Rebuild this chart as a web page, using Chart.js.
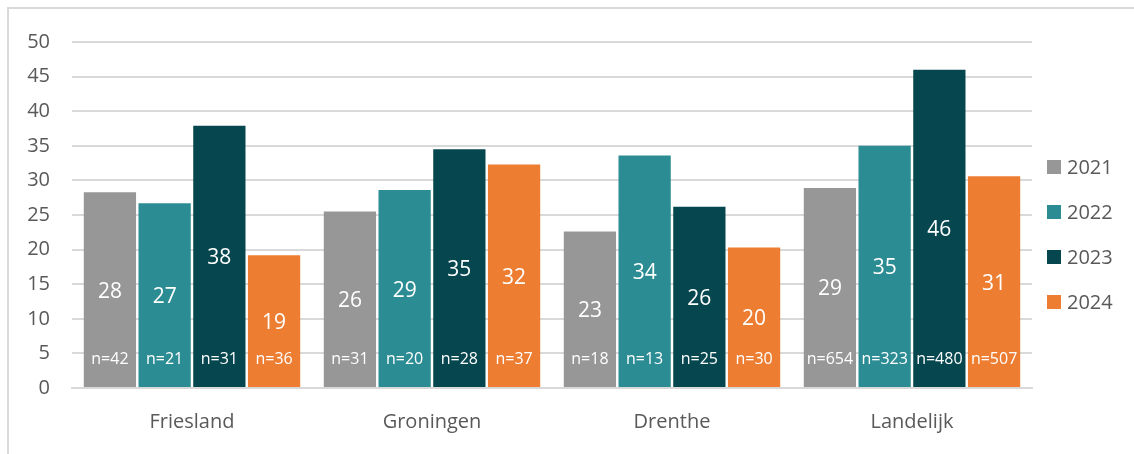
<!DOCTYPE html>
<html>
<head>
<meta charset="utf-8">
<script src="https://cdn.jsdelivr.net/npm/chart.js@4"></script>
<style>
  html, body { margin: 0; padding: 0; background: #fff; }
  .frame {
    position: absolute; left: 7px; top: 7px; width: 1130px; height: 460px;
    border-top: 2px solid #d9d9d9; border-left: 2px solid #d9d9d9;
    box-sizing: border-box;
  }
  .wrap { position: absolute; left: 0; top: 0; width: 1134px; height: 454px; }
</style>
</head>
<body>
<div class="frame"></div>
<div class="wrap"><canvas id="chart" width="1134" height="454"></canvas></div>
<script>
const regions = ['Friesland', 'Groningen', 'Drenthe', 'Landelijk'];
const years = ['2021', '2022', '2023', '2024'];

const v2021 = [28.3, 25.5, 22.6, 28.9];
const v2022 = [26.7, 28.6, 33.6, 35.0];
const v2023 = [37.9, 34.5, 26.2, 46.0];
const v2024 = [19.2, 32.3, 20.3, 30.6];

const n2021 = [42, 31, 18, 654];
const n2022 = [21, 20, 13, 323];
const n2023 = [31, 28, 25, 480];
const n2024 = [36, 37, 30, 507];

const yTicks = [0, 5, 10, 15, 20, 25, 30, 35, 40, 45, 50];

const colors = ['#979798', '#2c8c94', '#06474f', '#ed7d31'];
const FONT = "'Open Sans', sans-serif";
const TEXT = '#595959';

const values = [v2021, v2022, v2023, v2024];
const counts = [n2021, n2022, n2023, n2024];

// value in the middle of each bar, sample size near the bottom
const barLabels = {
  id: 'barLabels',
  afterDatasetsDraw(chart) {
    const ctx = chart.ctx;
    ctx.save();
    ctx.fillStyle = '#fff';
    ctx.textAlign = 'center';
    ctx.textBaseline = 'middle';
    chart.data.datasets.forEach((ds, i) => {
      const meta = chart.getDatasetMeta(i);
      meta.data.forEach((bar, j) => {
        ctx.font = '21px ' + FONT;
        ctx.fillText(Math.round(ds.data[j]), bar.x, (bar.y + bar.base) / 2 + 2);
        ctx.font = '16px ' + FONT;
        ctx.fillText('n=' + counts[i][j], bar.x, bar.base - 28);
      });
    });
    ctx.restore();
  }
};

// legend on the right, drawn by hand so the plot keeps its width
const sideLegend = {
  id: 'sideLegend',
  afterDraw(chart) {
    const ctx = chart.ctx;
    const x = chart.chartArea.right + 15;
    const top = 167, step = 45;
    ctx.save();
    ctx.font = '20px ' + FONT;
    ctx.textBaseline = 'middle';
    chart.data.datasets.forEach((ds, i) => {
      const cy = top + i * step;
      ctx.fillStyle = ds.backgroundColor;
      ctx.fillRect(x, cy - 7, 14, 14);
      ctx.fillStyle = TEXT;
      ctx.fillText(ds.label, x + 20, cy + 1);
    });
    ctx.restore();
  }
};

new Chart(document.getElementById('chart'), {
  type: 'bar',
  data: {
    labels: regions,
    datasets: years.map((y, i) => ({
      label: y,
      data: values[i],
      backgroundColor: colors[i],
      categoryPercentage: 0.912,
      barPercentage: 0.955
    }))
  },
  options: {
    responsive: false,
    animation: false,
    layout: { padding: { top: 42, right: 102, left: 0, bottom: 0 } },
    plugins: {
      legend: { display: false },
      tooltip: { enabled: false }
    },
    scales: {
      x: {
        grid: { display: false },
        border: { color: '#d9d9d9', width: 2 },
        ticks: { color: TEXT, font: { family: FONT, size: 20 }, padding: 14 },
        afterFit(scale) { scale.height = 66; }
      },
      y: {
        min: 0,
        max: 50,
        afterBuildTicks(scale) { scale.ticks = yTicks.map(v => ({ value: v })); },
        grid: { color: '#d9d9d9', lineWidth: 2, drawTicks: false },
        border: { display: false },
        ticks: { color: TEXT, font: { family: FONT, size: 20 }, padding: 22 },
        afterFit(scale) { scale.width = 72; }
      }
    }
  },
  plugins: [barLabels, sideLegend]
});
</script>
</body>
</html>
